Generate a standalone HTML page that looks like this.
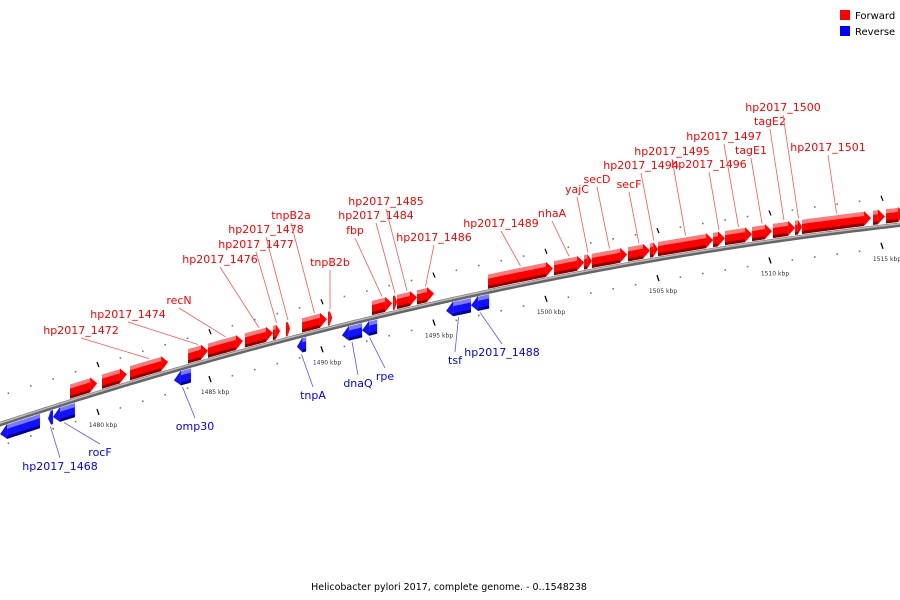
<!DOCTYPE html>
<html><head><meta charset="utf-8"><style>
body{margin:0;background:#fff}
svg{display:block;font-family:"DejaVu Sans","Liberation Sans",sans-serif}
</style></head><body>
<svg id="map" width="900" height="600" viewBox="0 0 900 600">
<g id="ticks"></g>
<g id="bb"></g>
<g id="genes"></g>
<g id="labels"></g>
<g>
<rect x="840" y="10" width="10" height="10" fill="#f00"/>
<text x="855" y="19" font-size="10">Forward</text>
<rect x="840" y="26" width="10" height="10" fill="#00f"/>
<text x="855" y="35" font-size="10">Reverse</text>
</g>
<text x="449" y="590" font-size="9.5" text-anchor="middle">Helicobacter pylori 2017, complete genome. - 0..1548238</text>
</svg>
<script>
const fwdStart=[1478.75,1480.18,1481.43,1484.02,1484.91,1486.56,1487.81,1488.39,1489.11,1490.27,1492.23,1493.17,1493.35,1494.24,1497.41,1500.36,1501.70,1502.05,1503.66,1504.64,1505.0,1507.46,1507.99,1509.20,1510.13,1511.12,1511.43,1514.60,1515.18];
const fwdEnd=[1479.96,1481.29,1483.13,1484.91,1486.47,1487.81,1488.13,1488.57,1490.22,1490.45,1493.13,1493.35,1494.24,1495.0,1500.31,1501.70,1502.05,1503.62,1504.64,1505.0,1507.46,1507.99,1509.20,1510.09,1511.12,1511.43,1514.51,1515.13,1516.03];
const revStart=[1475.63,1477.77,1477.99,1483.39,1488.88,1490.89,1491.79,1495.54,1496.65];
const revEnd=[1477.41,1477.99,1478.97,1484.15,1489.29,1491.79,1492.46,1496.65,1497.46];
const fwdLabels=["hp2017_1472","hp2017_1474","recN","hp2017_1476","hp2017_1477","hp2017_1478","tnpB2a","tnpB2b","fbp","hp2017_1484","hp2017_1485","hp2017_1486","hp2017_1489","nhaA","yajC","secD","secF","hp2017_1494","hp2017_1495","hp2017_1496","hp2017_1497","tagE1","tagE2","hp2017_1500","hp2017_1501"];
const fwdLabelGene=[2,3,4,5,6,7,8,9,10,11,12,13,14,15,16,17,18,19,20,21,22,23,24,25,26];
const fwdLabelPos=[[81,334],[128,318],[179,304],[220,263],[256,248],[266,233],[291,219],[330,266],[355,234],[376,219],[386,205],[434,241],[501,227],[552,217],[577,193],[597,183],[629,188],[641,169],[672,155],[709,168],[724,140],[751,154],[770,125],[783,111],[828,151]];
const revLabels=["hp2017_1468","rocF","omp30","tnpA","dnaQ","rpe","tsf","hp2017_1488"];
const revLabelGene=[1,2,3,4,5,6,7,8];
const revLabelPos=[[60,470],[100,456],[195,430],[313,399],[358,387],[385,380],[455,364],[502,356]];
const majorTicks=[1480,1485,1490,1495,1500,1505,1510,1515];

const NS="http://www.w3.org/2000/svg";
const X=kb=>98+(kb-1480)*22.4;
const Y=x=>424.2-0.3305*x+0.000121*x*x;
function mk(tag,attrs,parent){const e=document.createElementNS(NS,tag);for(const k in attrs)e.setAttribute(k,attrs[k]);parent.appendChild(e);return e;}
function band(x0,x1,o0,o1){let p=[];const n=8;for(let i=0;i<=n;i++){const x=x0+(x1-x0)*i/n;p.push(x+","+(Y(x)+o0));}for(let i=n;i>=0;i--){const x=x0+(x1-x0)*i/n;p.push(x+","+(Y(x)+o1));}return p.join(" ");}

// backbone
const bb=document.getElementById('bb');
let d="";for(let x=-5;x<=905;x+=5)d+=(x<0?"M":"L")+x+","+Y(x);
mk('path',{d:d,stroke:"#666",'stroke-width':4.5,fill:"none"},bb);
let d2="";for(let x=-5;x<=905;x+=5)d2+=(x<0?"M":"L")+x+","+(Y(x)-1);
mk('path',{d:d2,stroke:"#bbb",'stroke-width':1.5,fill:"none"},bb);

// ticks
const tg=document.getElementById('ticks');
for(let k=1475;k<=1516;k++){
  const x=X(k);
  if(majorTicks.includes(k)){
    const t=mk('line',{x1:x-1,y1:Y(x)+16,x2:x+1,y2:Y(x)+22,stroke:"#000",'stroke-width':1.3},tg);
    
    
    const l=mk('text',{x:x+5,y:Y(x)+34,'font-size':6,'text-anchor':'middle',fill:'#333'},tg);
    l.textContent=k+" kbp";
    
    
    mk('line',{x1:x-1,y1:Y(x)-31,x2:x+1,y2:Y(x)-26,stroke:"#000",'stroke-width':1.2},tg);
  } else {
    mk('rect',{x:x-0.8,y:Y(x)+21,width:1.6,height:1.6,fill:"#777"},tg);
    mk('rect',{x:x-0.8,y:Y(x)-29,width:1.6,height:1.6,fill:"#777"},tg);
  }
}

// genes
const gg=document.getElementById('genes');
function gene(s,e,fwd,i){
  const x0=X(s),x1=X(e);const g=mk('g',{},gg);
  
  
  const hl=Math.min(7,(x1-x0)*0.6);
  const top=fwd?-17:3,bot=fwd?-3:17,mid=(top+bot)/2;
  const main=fwd?"#f00":"#11f",light=fwd?"#ff7a7a":"#7a7aff",dark=fwd?"#8a0000":"#00008a";
  let bx0=fwd?x0:x0+hl,bx1=fwd?x1-hl:x1;
  let pts=band(bx0,bx1,top,bot);
  if(fwd){pts+=" "; }
  mk('polygon',{points:band(bx0,bx1,top,bot),fill:main},g);
  if(fwd) mk('polygon',{points:[bx1+","+(Y(bx1)+top-1),x1+","+(Y(x1)+mid),bx1+","+(Y(bx1)+bot)].join(" "),fill:main},g);
  else mk('polygon',{points:[bx0+","+(Y(bx0)+top-1),x0+","+(Y(x0)+mid),bx0+","+(Y(bx0)+bot)].join(" "),fill:main},g);
  if(bx1-bx0>2){
    mk('polygon',{points:band(bx0,bx1,top,top+4),fill:light},g);
    mk('polygon',{points:band(bx0,bx1,bot-3,bot),fill:dark},g);
  }
}
fwdStart.forEach((s,i)=>gene(s,fwdEnd[i],true,i));
revStart.forEach((s,i)=>gene(s,revEnd[i],false,i));

// labels
const lg=document.getElementById('labels');
function label(txt,pos,gi,fwd){
  const s=fwd?fwdStart[gi]:revStart[gi],e=fwd?fwdEnd[gi]:revEnd[gi];
  const gx=(X(s)+X(e))/2;const gy=Y(gx)+(fwd?-19:19);
  const col=fwd?"#f00":"#00f";
  const ln=mk('line',{x1:pos[0],y1:fwd?pos[1]+4:pos[1]-12,x2:gx,y2:gy,stroke:fwd?"#f55":"#55f",'stroke-width':0.8},lg);
  
  
  const t=mk('text',{x:pos[0],y:pos[1],'font-size':11,'text-anchor':'middle',fill:col},lg);
  t.textContent=txt;
  
  
}
fwdLabels.forEach((t,i)=>label(t,fwdLabelPos[i],fwdLabelGene[i],true));
revLabels.forEach((t,i)=>label(t,revLabelPos[i],revLabelGene[i],false));
</script>
</body></html>
